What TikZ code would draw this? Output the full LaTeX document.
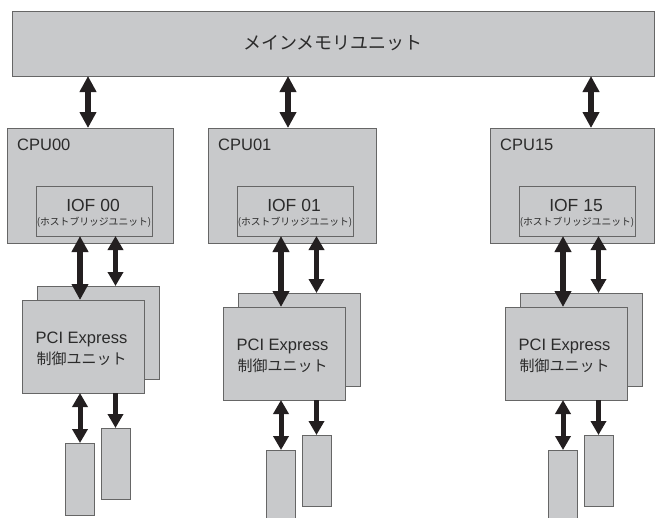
\documentclass[tikz,border=0pt]{standalone}
\usepackage{fontspec}
\setmainfont{Liberation Sans}
\newfontfamily\jp{Noto Sans CJK JP}
\usetikzlibrary{arrows.meta}

\definecolor{boxfill}{HTML}{C8C9CB}
\definecolor{boxline}{HTML}{666666}
\definecolor{arrowc}{HTML}{231F20}
\definecolor{textc}{HTML}{2B2B2B}

\tikzset{
  unit/.style={draw=boxline, fill=boxfill, line width=0.9pt,
               inner sep=0pt, outer sep=0pt, anchor=north west},
  lbl/.style={text=textc, inner sep=0pt},
  bus/.style={draw=arrowc, line width=6pt,
              {Triangle[width=16pt,length=16pt]}-{Triangle[width=16pt,length=16pt]}},
  subbus/.style={draw=arrowc, line width=5pt,
              {Triangle[width=15pt,length=14pt]}-{Triangle[width=15pt,length=14pt]}},
  downbus/.style={draw=arrowc, line width=5pt, -{Triangle[width=15pt,length=14pt]}},
  cpufont/.style={font=\fontsize{16.5pt}{18pt}\selectfont},
  ioffont/.style={font=\fontsize{17.5pt}{19pt}\selectfont},
  subfont/.style={font=\jp\fontsize{9.8pt}{11pt}\selectfont},
  pcifont/.style={font=\fontsize{16.5pt}{18pt}\selectfont},
  ctlfont/.style={font=\jp\fontsize{15pt}{17pt}\selectfont},
}

% One CPU with its host bridge, PCI Express controllers and slots.
% #1 id, #2 left x, #3 CPU width, #4 vertical shift of the PCIe block
\newcommand\cpucolumn[4]{%
  \node[unit, minimum width=#3pt, minimum height=115pt] (cpu#1) at (#2,128) {};
  \node[lbl, cpufont, anchor=base west] (cpulbl#1) at (#2+10,150) {CPU#1};
  \node[unit, minimum width=116pt, minimum height=50pt] (iof#1) at (#2+29,186) {};
  \node[lbl, ioffont, anchor=base] (ioftxt#1) at (#2+86,211) {IOF #1};
  \node[lbl, subfont, anchor=base] (iofsub#1) at (#2+87,225) {(ホストブリッジユニット)};
  % stacked PCI Express controllers
  \node[unit, minimum width=122pt, minimum height=93pt] (pcib#1) at (#2+30,286+#4) {};
  \node[unit, minimum width=122pt, minimum height=93pt] (pcif#1) at (#2+15,300+#4) {};
  \node[lbl, pcifont, anchor=base] (pcitxt#1) at (#2+74.5,343+#4) {PCI Express};
  \node[lbl, ctlfont, anchor=base] (ctltxt#1) at (#2+74.5,364+#4) {制御ユニット};
  % slots
  \node[unit, minimum width=29pt, minimum height=72pt] (slota#1) at (#2+58,443+#4) {};
  \node[unit, minimum width=29pt, minimum height=71pt] (slotb#1) at (#2+94,428+#4) {};
  % links
  \coordinate (bx#1) at (#2+73,0);
  \coordinate (sx#1) at (#2+108.5,0);
  \draw[bus] (iof#1.south -| bx#1) -- (pcif#1.north -| bx#1);
  \draw[subbus] (iof#1.south -| sx#1) -- (pcib#1.north -| sx#1);
  \draw[subbus] (pcif#1.south -| bx#1) -- (slota#1.north -| bx#1);
  \draw[downbus] (pcif#1.south -| sx#1) -- (slotb#1.north -| sx#1);
}

\begin{document}
\begin{tikzpicture}[x=1pt, y=-1pt]
  \clip (0,0) rectangle (655,517);
  \fill[white] (0,0) rectangle (655,517);

  \node[unit, minimum width=642pt, minimum height=65pt,
        font=\jp\fontsize{18pt}{20pt}\selectfont, text=textc] (mem) at (12,11) {メインメモリユニット};

  \cpucolumn{00}{7}{166}{0}
  \cpucolumn{01}{208}{168}{7}
  \cpucolumn{15}{490}{164}{7}

  \coordinate (m00) at (88,0);
  \coordinate (m01) at (288,0);
  \coordinate (m15) at (591,0);
  \draw[bus] (mem.south -| m00) -- (cpu00.north -| m00);
  \draw[bus] (mem.south -| m01) -- (cpu01.north -| m01);
  \draw[bus] (mem.south -| m15) -- (cpu15.north -| m15);
\end{tikzpicture}
\end{document}
